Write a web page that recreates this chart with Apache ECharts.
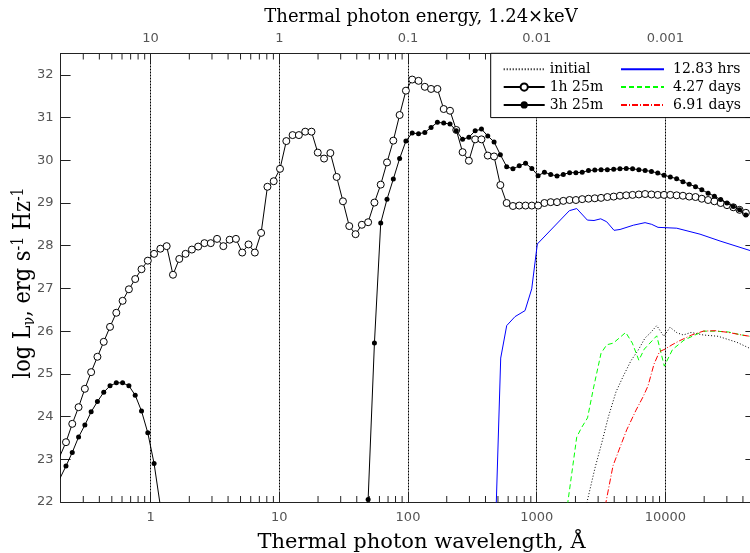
<!DOCTYPE html>
<html><head><meta charset="utf-8">
<script src="https://cdn.jsdelivr.net/npm/echarts@6/dist/echarts.min.js"></script>
<style>html,body{margin:0;padding:0;background:#fff}#c{width:750px;height:553px}</style>
</head><body><div id="c"></div>
<script>
// ---------- data ----------
const X_MIN = 0.2, X_MAX = 50000, Y_MIN = 22, Y_MAX = 32.5;

// wavelength grid (Å) shared by the two marker series
const gridLambda = [
  0.1967, 0.2202, 0.2464, 0.2758, 0.3086, 0.3454, 0.3865, 0.4326, 0.4842, 0.5418,
  0.6064, 0.6787, 0.7597, 0.8503, 0.9517, 1.065, 1.192, 1.334, 1.493, 1.671,
  1.870, 2.094, 2.343, 2.622, 2.935, 3.285, 3.677, 4.115, 4.605, 5.154,
  5.768, 6.457, 7.226, 8.088, 9.052, 10.13, 11.34, 12.69, 14.20, 15.90,
  17.79, 19.91, 22.28, 24.94, 27.91, 31.24, 34.96, 39.13, 43.79, 49.01,
  54.85, 61.40, 68.71, 76.91, 86.07, 96.34, 107.8, 120.7, 135.1, 151.1,
  169.2, 189.4, 212.0, 237.2, 265.5, 297.2, 332.6, 372.2, 416.6, 466.3,
  521.8, 584.1, 653.7, 731.6, 818.8, 916.4, 1025, 1148, 1284, 1438,
  1609, 1801, 2016, 2256, 2525, 2826, 3162, 3539, 3961, 4433,
  4962, 5555, 6216, 6957, 7786, 8714, 9752, 10915, 12217, 13672,
  15301, 17130, 19170, 21455, 24012, 26873, 30076, 33660, 37670, 42160
];

const lum1h25m = [
  23.06, 23.40, 23.83, 24.22, 24.65, 25.04, 25.40, 25.75, 26.10, 26.43,
  26.71, 26.98, 27.22, 27.45, 27.65, 27.81, 27.93, 27.99, 27.32, 27.69,
  27.81, 27.91, 27.98, 28.06, 28.06, 28.16, 27.99, 28.14, 28.16, 27.84,
  28.03, 27.84, 28.30, 29.38, 29.51, 29.80, 30.45, 30.59, 30.59, 30.67,
  30.67, 30.18, 30.04, 30.17, 29.61, 29.04, 28.46, 28.27, 28.49, 28.55,
  29.01, 29.43, 29.95, 30.46, 31.06, 31.63, 31.89, 31.86, 31.72, 31.67,
  31.67, 31.20, 31.16, 30.71, 30.19, 29.99, 30.49, 30.49, 30.11, 30.09,
  29.42, 29.00, 28.93, 28.94, 28.94, 28.94, 28.94, 29.00, 29.02, 29.02,
  29.05, 29.07, 29.07, 29.09, 29.10, 29.11, 29.12, 29.14, 29.15, 29.17,
  29.18, 29.19, 29.20, 29.21, 29.20, 29.19, 29.19, 29.19, 29.18, 29.17,
  29.15, 29.14, 29.10, 29.07, 29.04, 29.00, 28.95, 28.90, 28.84, 28.77
];

const lum3h25m = [
  22.54, 22.84, 23.16, 23.52, 23.80, 24.11, 24.35, 24.57, 24.72, 24.79,
  24.79, 24.72, 24.50, 24.13, 23.62, 22.90, 21.9, null, null, null,
  null, null, null, null, null, null, null, null, null, null,
  null, null, null, null, null, null, null, null, null, null,
  null, null, null, null, null, null, null, null, 21.0, 22.06,
  25.72, 28.53, 29.09, 29.56, 30.04, 30.45, 30.64, 30.62, 30.65, 30.77,
  30.89, 30.87, 30.85, 30.69, 30.49, 30.54, 30.69, 30.73, 30.57, 30.43,
  30.13, 29.85, 29.80, 29.87, 29.93, 29.81, 29.64, 29.72, 29.67, 29.63,
  29.67, 29.71, 29.71, 29.72, 29.76, 29.77, 29.78, 29.78, 29.79, 29.80,
  29.81, 29.80, 29.78, 29.76, 29.74, 29.70, 29.65, 29.61, 29.57, 29.50,
  29.44, 29.38, 29.31, 29.23, 29.16, 29.08, 29.00, 28.92, 28.84, 28.72
];

const initLambda = [2249, 2838, 3200, 3600, 4132, 4710, 5403, 6158, 6943, 7594, 8558, 9718, 10860, 12310, 13780, 15810, 19700, 25630, 35810, 49690];
const initValues = [21.5, 22.80, 23.38, 23.99, 24.58, 24.95, 25.31, 25.56, 25.84, 25.95, 26.13, 25.88, 26.09, 25.96, 25.91, 25.97, 25.91, 25.88, 25.74, 25.54];

const blueLambda = [474.2, 525.2, 584.7, 678.3, 811.2, 914.5, 1011, 1792, 2046, 2474, 2787, 3143, 3498, 3988, 4439, 5630, 6943, 7826, 8760, 12240, 18570, 26570, 49690];
const blueValues = [21.0, 25.37, 26.13, 26.34, 26.48, 26.99, 28.04, 28.82, 28.87, 28.60, 28.59, 28.63, 28.56, 28.36, 28.38, 28.48, 28.54, 28.50, 28.43, 28.41, 28.27, 28.11, 27.85];

const greenLambda = [1573, 2046, 2229, 2482, 2762, 3159, 3498, 3937, 4915, 5530, 6214, 6855, 8558, 9806, 11355, 13950, 19700, 24290, 30820, 39160, 49690];
const greenValues = [21.0, 23.52, 23.74, 23.97, 24.67, 25.48, 25.68, 25.72, 25.97, 25.72, 25.32, 25.58, 25.89, 25.18, 25.57, 25.79, 26.00, 26.00, 25.98, 25.91, 25.86];

const redLambda = [3159, 3916, 4360, 5004, 5909, 6697, 7326, 8155, 8998, 9929, 11250, 12760, 16010, 19700, 24290, 30820, 39160, 49690];
const redValues = [21.4, 22.85, 23.22, 23.69, 24.15, 24.46, 24.72, 25.23, 25.52, 25.58, 25.68, 25.77, 25.91, 26.00, 26.01, 25.97, 25.91, 25.86];

const minorTickLambda = [
  0.3, 0.4, 0.5, 0.6, 0.7, 0.8, 0.9,
  2, 3, 4, 5, 6, 7, 8, 9,
  20, 30, 40, 50, 60, 70, 80, 90,
  200, 300, 400, 500, 600, 700, 800, 900,
  2000, 3000, 4000, 5000, 6000, 7000, 8000, 9000,
  20000, 30000, 40000
];

const seriesNames = ['initial', '1h 25m', '3h 25m', '12.83 hrs', '4.27 days', '6.91 days'];

// ---------- chart ----------
const AXIS = '#222', LABEL = '#555';
const SERIF = 'DejaVu Serif', SANS = 'DejaVu Sans';
const pairs = (xs, ys) => xs.map((x, i) => [x, ys[i]]);
const isDecade = v => Math.abs(Math.log10(v) - Math.round(Math.log10(v))) < 1e-6;
const lineOnly = name => ({ name: name, itemStyle: { opacity: 0 } });

const chart = echarts.init(document.getElementById('c'));

const commonLine = {
  type: 'line', xAxisIndex: 0, yAxisIndex: 0, clip: true, silent: true,
  emphasis: { disabled: true }, animation: false
};

chart.setOption({
  animation: false,
  grid: { left: 60.6, right: -5.4, top: 53.5, bottom: 51, outerBoundsMode: 'none', containLabel: false },
  graphic: [{
    type: 'text', x: 24, y: 283, rotation: Math.PI / 2, scaleX: 0.87, scaleY: 1, silent: true,
    style: {
      text: '{a|log L}{sub|ν}{a|, erg s}{sup|-1}{a| Hz}{sup|-1}',
      align: 'center', verticalAlign: 'middle', fill: '#000',
      rich: {
        a: { fontFamily: SERIF, fontSize: 24, fill: '#000' },
        sub: { fontFamily: SERIF, fontSize: 16, fill: '#000', verticalAlign: 'bottom', padding: [11, 0, 0, 0] },
        sup: { fontFamily: SERIF, fontSize: 16, fill: '#000', verticalAlign: 'top', padding: [0, 0, 11, 0] }
      }
    }
  }],
  xAxis: [{
    type: 'log', logBase: 10, min: X_MIN, max: X_MAX, position: 'bottom',
    axisLine: { show: true, onZero: false, lineStyle: { color: AXIS, width: 1 } },
    axisTick: { show: true, inside: true, length: 10, lineStyle: { color: AXIS, width: 1 } },
    axisLabel: { color: LABEL, fontFamily: SANS, fontSize: 13, margin: 9,
      formatter: v => isDecade(v) ? String(Math.round(v)) : '' },
    splitLine: { show: true, lineStyle: { color: '#000', width: 1, type: [2, 1] } },
    name: 'Thermal photon wavelength, Å', nameLocation: 'middle', nameGap: 30,
    nameTextStyle: { fontFamily: SERIF, fontSize: 21, color: '#000', padding: [0, 0, 0, 27] }
  }, {
    type: 'log', logBase: 10, min: X_MIN, max: X_MAX, position: 'top',
    axisLine: { show: true, onZero: false, lineStyle: { color: AXIS, width: 1 } },
    axisTick: { show: true, inside: true, length: 10, lineStyle: { color: AXIS, width: 1 } },
    axisLabel: { color: LABEL, fontFamily: SANS, fontSize: 13, margin: 8,
      formatter: v => isDecade(v) ? String(parseFloat((10 / v).toPrecision(3))) : '' },
    splitLine: { show: false },
    name: 'Thermal photon energy, 1.24×keV', nameLocation: 'middle', nameGap: 27,
    nameTextStyle: { fontFamily: SERIF, fontSize: 18, color: '#000', padding: [0, 0, 0, 26] }
  }],
  yAxis: [{
    type: 'value', min: Y_MIN, max: Y_MAX, interval: 1, position: 'left',
    axisLine: { show: true, onZero: false, lineStyle: { color: AXIS, width: 1 } },
    axisTick: { show: true, inside: true, length: 10, lineStyle: { color: AXIS, width: 1 } },
    axisLabel: { color: LABEL, fontFamily: SANS, fontSize: 13, margin: 7,
      formatter: v => Number.isInteger(v) ? String(v) : '' },
    splitLine: { show: false }
  }, {
    type: 'value', min: Y_MIN, max: Y_MAX, interval: 1, position: 'right',
    axisLine: { show: true, onZero: false, lineStyle: { color: AXIS, width: 1 } },
    axisTick: { show: true, inside: true, length: 10, lineStyle: { color: AXIS, width: 1 } },
    axisLabel: { show: false },
    splitLine: { show: false }
  }],
  legend: [{
    data: [lineOnly(seriesNames[0]), seriesNames[1], seriesNames[2]],
    orient: 'vertical', left: 490.7, top: 53.3,
    padding: [9, 160, 5.7, 12], itemGap: 3.8, itemWidth: 41, itemHeight: 9,
    borderColor: '#000', borderWidth: 1, backgroundColor: '#fff', selectedMode: false,
    textStyle: { fontFamily: SERIF, fontSize: 14, color: '#000' }
  }, {
    data: seriesNames.slice(3).map(lineOnly),
    orient: 'vertical', left: 620, top: 62.3,
    padding: 0, itemGap: 3.8, itemWidth: 43, itemHeight: 9, selectedMode: false,
    textStyle: { fontFamily: SERIF, fontSize: 14, color: '#000', padding: [0, 0, 0, 4] }
  }],
  series: [
    Object.assign({}, commonLine, {
      name: seriesNames[0], data: pairs(initLambda, initValues), symbol: 'none', z: 3,
      color: '#000', lineStyle: { color: '#000', width: 1, type: [1, 2] }
    }),
    Object.assign({}, commonLine, {
      name: seriesNames[1], data: pairs(gridLambda, lum1h25m), symbol: 'circle', symbolSize: 7, z: 4,
      itemStyle: { color: '#fff', borderColor: '#000', borderWidth: 1 },
      lineStyle: { color: '#000', width: 1 }
    }),
    Object.assign({}, commonLine, {
      name: seriesNames[2], data: pairs(gridLambda, lum3h25m), symbol: 'circle', symbolSize: 5, z: 5,
      itemStyle: { color: '#000' }, lineStyle: { color: '#000', width: 1 }
    }),
    Object.assign({}, commonLine, {
      name: seriesNames[3], data: pairs(blueLambda, blueValues), symbol: 'none', z: 3,
      color: '#0000ff', lineStyle: { color: '#0000ff', width: 1 }
    }),
    Object.assign({}, commonLine, {
      name: seriesNames[4], data: pairs(greenLambda, greenValues), symbol: 'none', z: 3,
      color: '#00ff00', lineStyle: { color: '#00ff00', width: 1, type: [5, 3] }
    }),
    Object.assign({}, commonLine, {
      name: seriesNames[5], data: pairs(redLambda, redValues), symbol: 'none', z: 3,
      color: '#ff0000', lineStyle: { color: '#ff0000', width: 1, type: [6, 2, 1, 2] }
    }),
    {
      type: 'custom', name: 'minorTicks', xAxisIndex: 0, yAxisIndex: 0, silent: true, z: 2,
      data: minorTickLambda.map(v => [v, Y_MIN]),
      renderItem: (params, api) => {
        const v = api.value(0);
        const b = api.coord([v, Y_MIN]);
        const t = api.coord([v, Y_MAX]);
        const st = { stroke: AXIS, lineWidth: 1 };
        return { type: 'group', children: [
          { type: 'line', shape: { x1: b[0], y1: b[1], x2: b[0], y2: b[1] - 6 }, style: st },
          { type: 'line', shape: { x1: t[0], y1: t[1], x2: t[0], y2: t[1] + 6 }, style: st }
        ]};
      }
    }
  ]
});
</script></body></html>
